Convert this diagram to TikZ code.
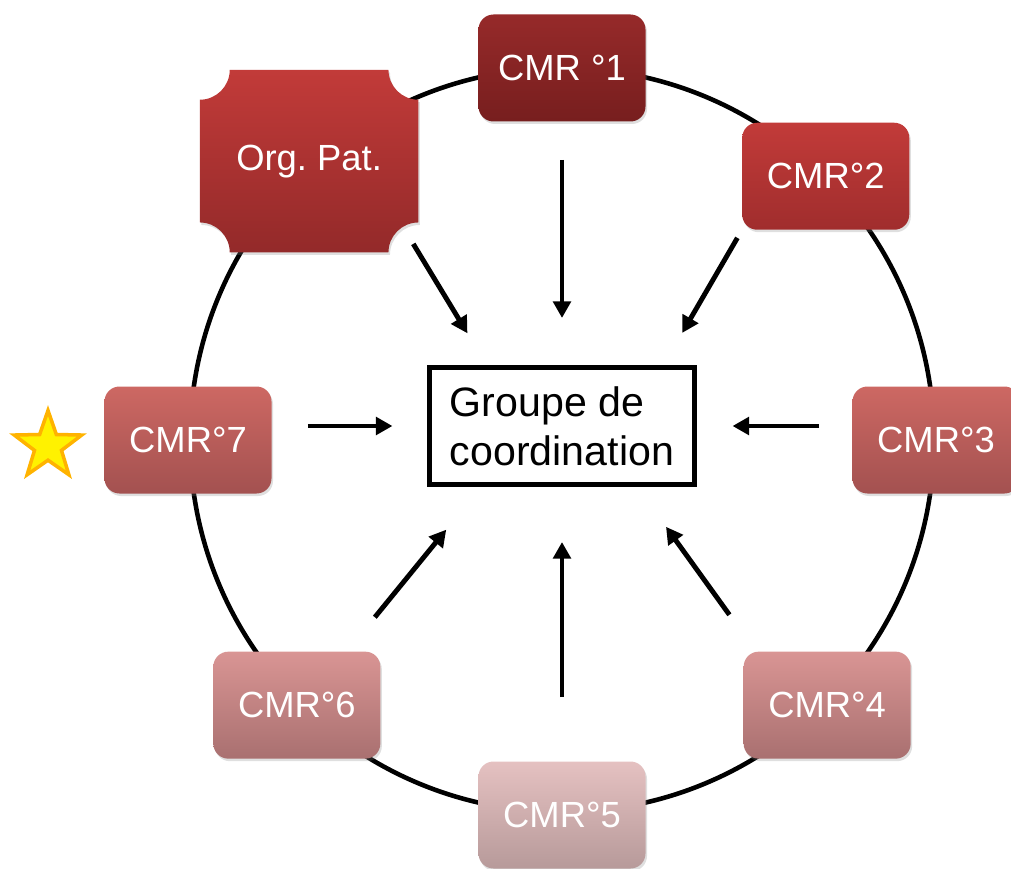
\documentclass[tikz,border=0pt]{standalone}
\usepackage{fontspec}
\setmainfont{Liberation Sans}
\usetikzlibrary{arrows.meta, positioning, calc, shapes.geometric, shadows, backgrounds}

\definecolor{cmrA}{HTML}{962A2A}\definecolor{cmrAb}{HTML}{771E1E}
\definecolor{cmrB}{HTML}{C23B39}\definecolor{cmrBb}{HTML}{A02D2D}
\definecolor{cmrC}{HTML}{CD6863}\definecolor{cmrCb}{HTML}{A35150}
\definecolor{cmrD}{HTML}{D99594}\definecolor{cmrDb}{HTML}{A97070}
\definecolor{cmrE}{HTML}{E5C1C1}\definecolor{cmrEb}{HTML}{B79A9A}
\definecolor{starline}{HTML}{FFB300}

\tikzset{
	cmrbox/.style={rectangle, rounded corners=0.3cm, minimum width=3.34cm, minimum height=2.14cm,
		text=white, font=\fontsize{20.7}{24}\selectfont,
		drop shadow={shadow xshift=0.03cm, shadow yshift=-0.05cm, opacity=0.25}},
	arr/.style={line width=2.8pt, -{Triangle[length=9.5pt, width=10pt]}},
}

\begin{document}
\begin{tikzpicture}
	\useasboundingbox (0,0) rectangle (20.22,-17.38);
	\coordinate (ctr) at (11.24,-8.8);
	
	% CMR ring
	\node[cmrbox, top color=cmrA, bottom color=cmrAb] (cmr1) at ($(ctr)+(90:7.44)$) {CMR °1};
	\node[cmrbox, top color=cmrB, bottom color=cmrBb] (cmr2) at ($(ctr)+(45:7.46)$) {CMR°2};
	\node[cmrbox, top color=cmrC, bottom color=cmrCb] (cmr3) at ($(ctr)+(0:7.48)$) {CMR°3};
	\node[cmrbox, top color=cmrD, bottom color=cmrDb] (cmr4) at ($(ctr)+(-45:7.5)$) {CMR°4};
	\node[cmrbox, top color=cmrE, bottom color=cmrEb] (cmr5) at ($(ctr)+(-90:7.5)$) {CMR°5};
	\node[cmrbox, top color=cmrD, bottom color=cmrDb] (cmr6) at ($(ctr)+(-135:7.5)$) {CMR°6};
	\node[cmrbox, top color=cmrC, bottom color=cmrCb] (cmr7) at ($(ctr)+(180:7.48)$) {CMR°7};
	
	\node[rectangle, minimum width=4.36cm, minimum height=3.64cm, text=white,
		font=\fontsize{20.7}{24}\selectfont] (org) at ($(ctr)+(132.2:7.53)$) {Org.\ Pat.};
	
	\begin{pgfonlayer}{background}
		\draw[line width=2.6pt] (ctr) circle (7.44);
		\shade[top color=cmrB, bottom color=cmrBb!92!black,
			drop shadow={shadow xshift=0.03cm, shadow yshift=-0.05cm, opacity=0.25}]
			([xshift=0.6cm]org.north west) -- ([xshift=-0.6cm]org.north east)
			arc[start angle=180, end angle=270, radius=0.6cm]
			-- ([yshift=0.6cm]org.south east)
			arc[start angle=90, end angle=180, radius=0.6cm]
			-- ([xshift=0.6cm]org.south west)
			arc[start angle=0, end angle=90, radius=0.6cm]
			-- ([yshift=-0.6cm]org.north west)
			arc[start angle=270, end angle=360, radius=0.6cm] -- cycle;
	\end{pgfonlayer}
	
	% coordination
	\node[draw, line width=2.6pt, minimum width=5.29cm, minimum height=2.35cm, align=left,
		font=\fontsize{23.4}{28}\selectfont] (grp) at (11.24,-8.52) {Groupe de\\coordination};
	
	\node[star, star points=5, star point ratio=2.5, minimum size=1.42cm, inner sep=0pt,
		fill=yellow, draw=starline, line width=2pt] (star) at (0.96,-8.92) {};
	
	\draw[arr, shorten <=0.76cm, shorten >=0.94cm] (cmr1.south) -- (grp.north);
	\draw[arr, shorten <=0.18cm, shorten >=0.74cm] (cmr2.south west) -- (grp.31);
	\draw[arr, shorten <=0.66cm, shorten >=0.72cm] (cmr3.west |- grp) -- (grp.east);
	\draw[arr, shorten <=0.9cm, shorten >=0.98cm] (cmr4.143) -- (grp.321);
	\draw[arr, shorten <=1.28cm, shorten >=1.1cm] (cmr5.north) -- (grp.south);
	\draw[arr, shorten <=0.88cm, shorten >=1.1cm] (cmr6.47) -- (grp.217);
	\draw[arr, shorten <=0.72cm, shorten >=0.7cm] (cmr7.east |- grp) -- (grp.west);
	\draw[arr, shorten <=-0.2cm, shorten >=0.74cm] (org.south east) -- (grp.141);
\end{tikzpicture}
\end{document}
